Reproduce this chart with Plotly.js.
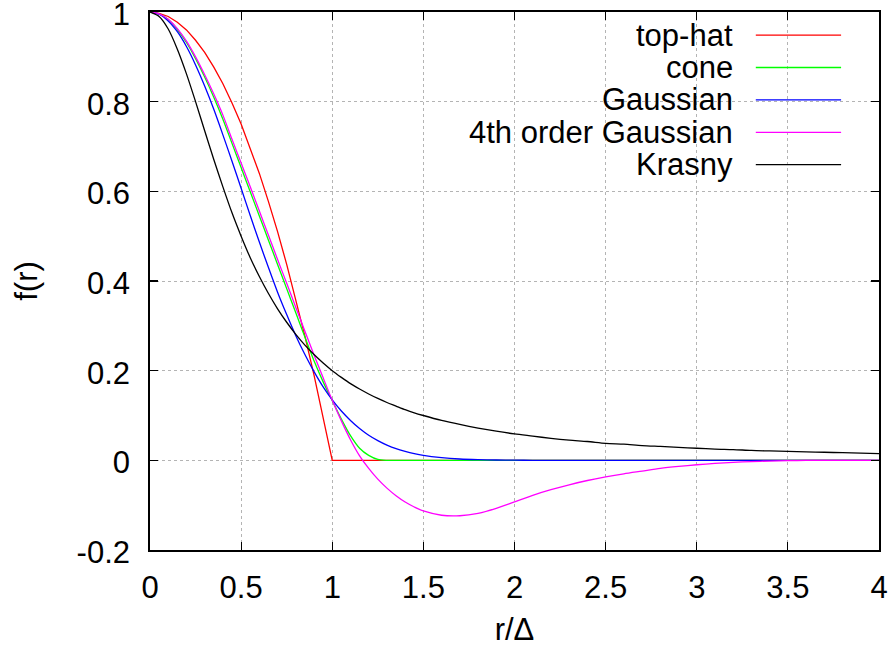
<!DOCTYPE html>
<html>
<head>
<meta charset="utf-8">
<script src="https://cdn.plot.ly/plotly-3.0.1.min.js"></script>
<style>
html,body{margin:0;padding:0;background:#fff;}
#chart{width:890px;height:648px;}
</style>
</head>
<body>
<div id="chart"></div>
<script>
// r / Delta sample positions
const r = [0,0.05,0.1,0.15,0.2,0.25,0.3,0.35,0.4,0.45,0.5,0.55,0.6,0.65,0.7,0.75,0.8,0.85,0.9,0.95,1.0,
  1.05,1.1,1.15,1.2,1.25,1.3,1.35,1.4,1.45,1.5,
  1.6,1.7,1.8,1.9,2.0,2.1,2.2,2.3,2.4,2.5,2.6,2.7,2.8,2.9,3.0,3.1,3.2,3.3,3.4,3.5,3.6,3.7,3.8,3.9,4.0];

const topHat = [1,0.997,0.99,0.977,0.96,0.937,0.91,0.877,0.84,0.797,0.75,0.697,0.64,0.577,0.51,0.437,0.36,0.277,0.19,0.097,0,
  0,0,0,0,0,0,0,0,0,0,
  0,0,0,0,0,0,0,0,0,0,0,0,0,0,0,0,0,0,0,0,0,0,0,0,0];

const cone = [1,0.996,0.983,0.961,0.932,0.896,0.855,0.81,0.761,0.707,0.653,0.599,0.545,0.491,0.437,0.383,0.329,0.275,0.222,0.175,0.133,
  0.092,0.055,0.027,0.011,0.002,0,0,0,0,0,
  0,0,0,0,0,0,0,0,0,0,0,0,0,0,0,0,0,0,0,0,0,0,0,0,0];

const gaussian = [1,0.995,0.98,0.956,0.923,0.882,0.835,0.783,0.726,0.667,0.607,0.546,0.487,0.43,0.375,0.325,0.278,0.236,0.198,0.164,0.135,
  0.11,0.089,0.071,0.056,0.044,0.034,0.026,0.02,0.015,0.011,
  0.006,0.003,0.0015,0.0007,0.0003,0,0,0,0,0,0,0,0,0,0,0,0,0,0,0,0,0,0,0,0];

const gauss4 = [1,0.996,0.984,0.963,0.935,0.9,0.86,0.817,0.77,0.716,0.663,0.61,0.556,0.502,0.448,0.395,0.341,0.288,0.235,0.184,0.134,
  0.088,0.046,0.01,-0.018,-0.042,-0.062,-0.079,-0.093,-0.104,-0.113,
  -0.1225,-0.1236,-0.1182,-0.107,-0.0925,-0.078,-0.0655,-0.0545,-0.045,-0.037,-0.030,-0.024,-0.018,-0.0135,-0.0098,-0.0068,-0.0045,-0.0028,-0.0016,-0.0008,-0.0003,0,0,0,0];

const krasny = [1,0.99,0.962,0.917,0.862,0.8,0.735,0.671,0.61,0.552,0.5,0.452,0.41,0.372,0.338,0.308,0.281,0.257,0.236,0.217,0.2,
  0.185,0.171,0.159,0.148,0.138,0.129,0.121,0.113,0.106,0.1,
  0.089,0.08,0.072,0.065,0.059,0.054,0.049,0.045,0.042,0.038,0.036,0.033,0.031,0.029,0.027,0.025,0.024,0.022,0.021,0.02,0.019,0.018,0.017,0.016,0.015];

const seriesNames = ['top-hat','cone','Gaussian','4th order Gaussian','Krasny'];
const seriesValues = [topHat, cone, gaussian, gauss4, krasny];
const seriesColors = ['#ff0000','#00ff00','#0000ff','#ff00ff','#000000'];
const seriesShapes = ['linear','spline','spline','spline','spline'];

const xTickVals = [0,0.5,1,1.5,2,2.5,3,3.5,4];
const xTickText = ['0','0.5','1','1.5','2','2.5','3','3.5','4'];
const yTickVals = [-0.2,0,0.2,0.4,0.6,0.8,1];
const yTickText = ['-0.2','0','0.2','0.4','0.6','0.8','1'];

const FONT = 'Liberation Sans, Arial, Helvetica, sans-serif';
const FS = 31;

const traces = seriesNames.map((n,i)=>({
  x: r, y: seriesValues[i], name: n, type: 'scatter', mode: 'lines',
  line: {color: seriesColors[i], width: 1.3, shape: seriesShapes[i], smoothing: 0.8},
  showlegend: false, hoverinfo: 'skip', cliponaxis: true
}));

// gnuplot-style key: text right-aligned, sample line to the right
const keyTextX = 0.8025, keyLineX0 = 0.831, keyLineX1 = 0.948, keyTop = 0.957, keyStep = 0.0602;
const annotations = seriesNames.map((n,i)=>({
  xref:'paper', yref:'paper', x:keyTextX, y:keyTop - i*keyStep,
  xanchor:'right', yanchor:'middle', showarrow:false, text:n,
  font:{family:FONT, size:FS, color:'#000'}
}));
const shapes = [{
  type:'rect', xref:'paper', yref:'paper', x0:0.425, x1:0.971, y0:0.69, y1:0.986,
  fillcolor:'#fff', line:{width:0}, layer:'between'
}].concat(seriesNames.map((n,i)=>({
  type:'line', xref:'paper', yref:'paper', x0:keyLineX0, x1:keyLineX1,
  y0:keyTop - i*keyStep, y1:keyTop - i*keyStep,
  line:{color:seriesColors[i], width:1.3}
})));

const axisCommon = {
  showline:true, linecolor:'#000', linewidth:1.8, mirror:'ticks',
  ticks:'inside', ticklen:8, tickwidth:1.2, tickcolor:'#000',
  showgrid:true, gridcolor:'#b4b4b4', gridwidth:1, griddash:'dot',
  zeroline:false, automargin:false, ticklabeloverflow:'allow',
  tickfont:{family:FONT, size:FS, color:'#000'}
};

const layout = {
  width:890, height:648,
  margin:{l:150, r:11, t:12, b:98, pad:0},
  paper_bgcolor:'#fff', plot_bgcolor:'#fff',
  showlegend:false,
  xaxis: Object.assign({}, axisCommon, {
    range:[0,4.0000001], tickmode:'array', tickvals:xTickVals, ticktext:xTickText,
    ticklabelstandoff:9,
    title:{text:'r/Δ', font:{family:FONT, size:FS, color:'#000'}, standoff:14}
  }),
  yaxis: Object.assign({}, axisCommon, {
    range:[-0.2000001,1.0000001], tickmode:'array', tickvals:yTickVals, ticktext:yTickText,
    ticklabelstandoff:12, ticklabelshift:2,
    title:{text:'f(r)', font:{family:FONT, size:FS, color:'#000'}, standoff:30}
  }),
  annotations: annotations,
  shapes: shapes
};

Plotly.newPlot('chart', traces, layout, {staticPlot:true, displayModeBar:false});
</script>
</body>
</html>
